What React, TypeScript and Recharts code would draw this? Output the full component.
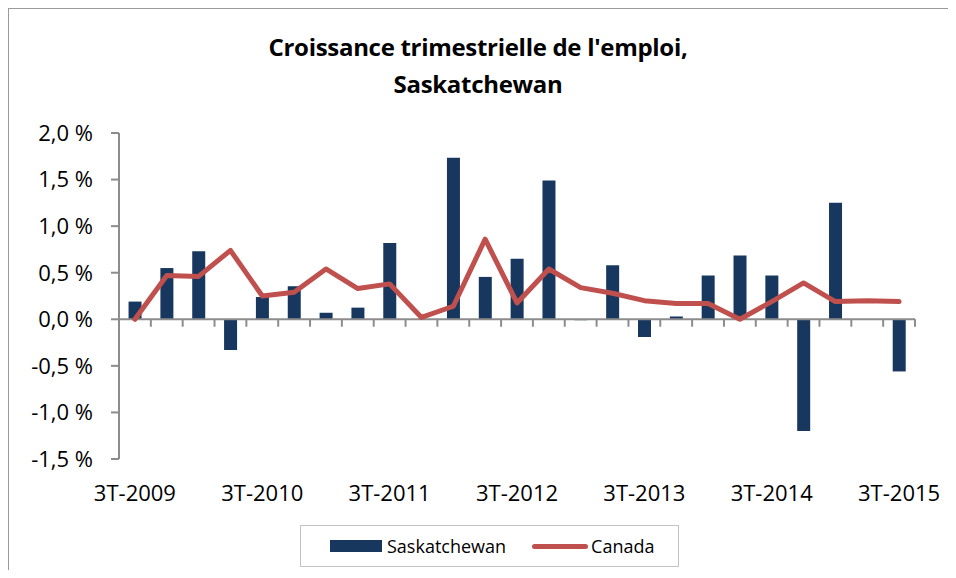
import {
  Bar, ComposedChart, Legend, Line, ReferenceLine, XAxis, YAxis,
} from 'recharts'

const quarters = [
  '3T-2009', '4T-2009', '1T-2010', '2T-2010', '3T-2010', '4T-2010', '1T-2011', '2T-2011',
  '3T-2011', '4T-2011', '1T-2012', '2T-2012', '3T-2012', '4T-2012', '1T-2013', '2T-2013',
  '3T-2013', '4T-2013', '1T-2014', '2T-2014', '3T-2014', '4T-2014', '1T-2015', '2T-2015',
  '3T-2015',
]
const saskatchewan = [
  0.19, 0.55, 0.73, -0.33, 0.24, 0.355, 0.07, 0.125, 0.82, 0, 1.735, 0.455, 0.65,
  1.49, -0.01, 0.58, -0.19, 0.03, 0.47, 0.685, 0.47, -1.2, 1.25, 0, -0.56,
]
const canada = [
  0.0, 0.47, 0.46, 0.74, 0.25, 0.29, 0.54, 0.33, 0.38, 0.02, 0.14, 0.86, 0.175,
  0.54, 0.34, 0.28, 0.2, 0.17, 0.17, 0.0, 0.19, 0.39, 0.19, 0.2, 0.19,
]
const yTicks = [-1.5, -1, -0.5, 0, 0.5, 1, 1.5, 2]
const labelTicks = ['3T-2009', '3T-2010', '3T-2011', '3T-2012', '3T-2013', '3T-2014', '3T-2015']
const legendOrder = ['Saskatchewan', 'Canada']

const FONT = '"Open Sans", "Liberation Sans", sans-serif'
const AXIS = '#8c8c8c'
const NAVY = '#17375e'
const RED = '#c0504d'

const data = quarters.map((q, i) => ({
  q, idx: i, Saskatchewan: saskatchewan[i], Canada: canada[i],
}))
// category boundaries for the little tick marks on the zero line
const edges = Array.from({ length: quarters.length + 1 }, (_, i) => i)

const fmt = (v: number) => v.toFixed(1).replace('.', ',') + ' %'

function LegendBox({ payload }: any) {
  const items = [...(payload || [])].sort(
    (a: any, b: any) => legendOrder.indexOf(a.value) - legendOrder.indexOf(b.value),
  )
  return (
    <div style={{
      boxSizing: 'border-box', width: 379, height: 42, border: '1.5px solid #c3c3c3',
      display: 'flex', alignItems: 'center', paddingLeft: 29,
      fontFamily: FONT, fontSize: 18, color: '#000', background: '#fff',
    }}>
      {items.map((p: any) => (
        <div key={p.value} style={{ display: 'flex', alignItems: 'center', marginRight: 26 }}>
          {p.value === 'Saskatchewan'
            ? <span style={{ display: 'inline-block', width: 52, height: 12, background: NAVY, marginRight: 5 }} />
            : <span style={{ display: 'inline-block', width: 56, height: 5, borderRadius: 3, background: RED, marginRight: 3 }} />}
          <span>{p.value}</span>
        </div>
      ))}
    </div>
  )
}

export default function App() {
  return (
    <div style={{ position: 'relative', margin: -8, width: 956, height: 578, overflow: 'hidden', background: '#fff' }}>
      <div style={{
        position: 'absolute', left: 8, top: 8, width: 1000, height: 600,
        border: '1.5px solid #9a9a9a',
      }} />
      <div style={{
        position: 'absolute', left: 0, top: 28, width: 956, textAlign: 'center',
        fontFamily: FONT, fontWeight: 700, fontSize: 24, lineHeight: '37px', color: '#000',
        letterSpacing: -0.3,
      }}>
        Croissance trimestrielle de l'emploi,<br />Saskatchewan
      </div>
      <div style={{ position: 'absolute', left: 0, top: 0 }}>
        <ComposedChart
          width={956} height={578} data={data}
          margin={{ top: 133, right: 41, bottom: 59, left: 0 }}
          barCategoryGap="30%"
        >
          <XAxis
            dataKey="q" height={60} interval={0} tickLine={false} axisLine={false}
            tickSize={0} tickMargin={26}
            ticks={labelTicks}
            tick={{ fontSize: 22, fontFamily: FONT, fill: '#000' }}
          />
          <XAxis
            xAxisId="edge" dataKey="idx" type="number" domain={[0, 25]}
            allowDataOverflow hide
          />
          <YAxis
            width={119} domain={[-1.5, 2]} ticks={yTicks} interval={0}
            tickFormatter={fmt} tickSize={8} tickMargin={18}
            axisLine={{ stroke: AXIS, strokeWidth: 2 }}
            tickLine={{ stroke: AXIS, strokeWidth: 2 }}
            tick={{ fontSize: 22, fontFamily: FONT, fill: '#000' }}
          />
          <Bar dataKey="Saskatchewan" fill={NAVY} isAnimationActive={false} />
          <ReferenceLine y={0} stroke={AXIS} strokeWidth={2} />
          {edges.map((e) => (
            <ReferenceLine
              key={e} xAxisId="edge" stroke={AXIS} strokeWidth={2}
              segment={[{ x: e, y: 0 }, { x: e, y: -0.08 }]}
            />
          ))}
          <Line
            dataKey="Canada" type="linear" stroke={RED} strokeWidth={5}
            strokeLinecap="round" strokeLinejoin="round"
            dot={false} activeDot={false} isAnimationActive={false}
          />
          <Legend
            layout="horizontal" verticalAlign="middle" align="center"
            content={<LegendBox />}
            wrapperStyle={{ left: 300, top: 525, width: 379, height: 42 }}
          />
        </ComposedChart>
      </div>
    </div>
  )
}
